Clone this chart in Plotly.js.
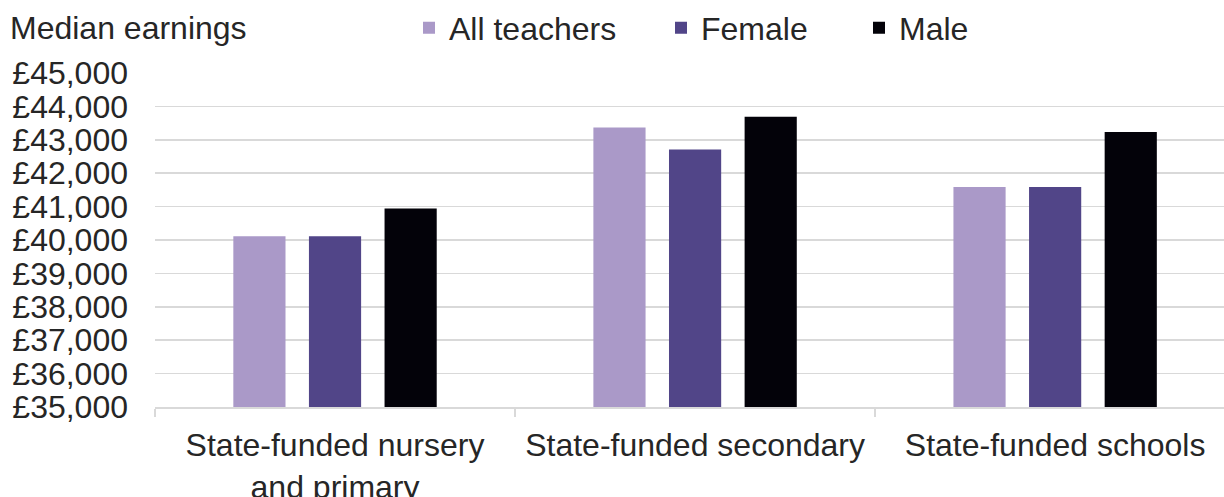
<!DOCTYPE html>
<html>
<head>
<meta charset="utf-8">
<script src="https://cdn.plot.ly/plotly-3.0.1.min.js"></script>
<style>html,body{margin:0;padding:0;background:#fff;}#chart{width:1224px;height:497px;}</style>
</head>
<body>
<div id="chart"></div>
<script>
const categories = ["State-funded nursery<br>and primary", "State-funded secondary", "State-funded schools"];
const allTeachers = [40110, 43370, 41590];
const female = [40110, 42710, 41590];
const male = [40940, 43690, 43230];
const seriesNames = ["All teachers", "Female", "Male"];
const seriesColors = ["#aa99c8", "#514588", "#030209"];
const yTickVals = [35000, 36000, 37000, 38000, 39000, 40000, 41000, 42000, 43000, 44000, 45000];
const yTickText = ["£35,000", "£36,000", "£37,000", "£38,000", "£39,000", "£40,000", "£41,000", "£42,000", "£43,000", "£44,000", "£45,000"];

const FONT = "Liberation Sans, Arial, sans-serif";
const TXT = "#262626";
const FS = 32;
const values = [allTeachers, female, male];
const legendIds = ["legend2", "legend3", "legend4"];

const traces = values.map((v, i) => ({
  type: "bar",
  x: categories,
  y: v,
  name: seriesNames[i],
  marker: {color: seriesColors[i]},
  legend: legendIds[i],
  showlegend: true,
  hoverinfo: "skip"
}));

const W = 1224, H = 497;
const legendBase = {orientation: "h", xref: "container", yref: "container", xanchor: "left", yanchor: "middle",
  y: 1 - 28 / H,
  font: {family: FONT, size: FS, color: TXT}, bgcolor: "rgba(0,0,0,0)", itemwidth: 30};

const layout = {
  width: W, height: H,
  showlegend: true,
  margin: {l: 155, r: 0, t: 73, b: 90, pad: 0},
  paper_bgcolor: "#fff", plot_bgcolor: "#fff",
  font: {family: FONT, size: FS, color: TXT},
  barmode: "group",
  bargap: 0.37,
  bargroupgap: 0.31,
  title: {text: "Median earnings", x: 10 / W, xref: "container", xanchor: "left",
          y: 1 - 28 / H, yref: "container", yanchor: "middle",
          font: {family: FONT, size: FS, color: TXT}},
  legend2: Object.assign({}, legendBase, {x: 409 / W}),
  legend3: Object.assign({}, legendBase, {x: 661 / W}),
  legend4: Object.assign({}, legendBase, {x: 859 / W}),
  xaxis: {
    type: "category",
    range: [-0.5, 2.469],
    showgrid: false,
    showline: true, linecolor: "#d9d9d9", linewidth: 1.5,
    ticks: "outside", tickson: "boundaries", ticklen: 8, tickcolor: "#d9d9d9", tickwidth: 1.5,
    tickfont: {family: FONT, size: FS, color: TXT},
    ticklabelstandoff: 9,
    fixedrange: true
  },
  yaxis: {
    range: [35000, 45000],
    tickvals: yTickVals,
    ticktext: yTickText,
    showgrid: true, gridcolor: "#d9d9d9", gridwidth: 1.5,
    zeroline: false, showline: false, ticks: "",
    tickfont: {family: FONT, size: FS, color: TXT},
    ticklabelstandoff: 26,
    fixedrange: true
  }
};

Plotly.newPlot("chart", traces, layout, {displayModeBar: false, staticPlot: true});
</script>
</body>
</html>
